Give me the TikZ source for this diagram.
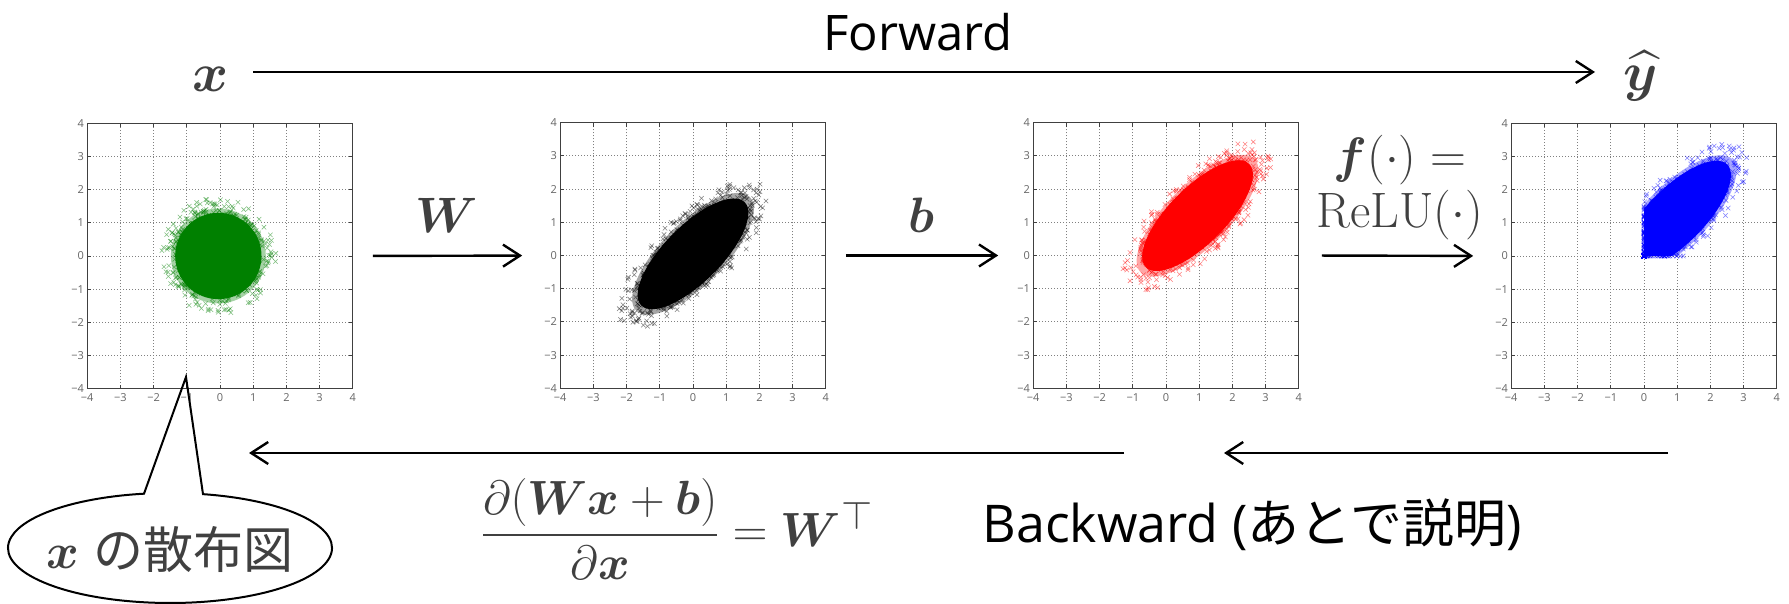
\documentclass[tikz,border=0pt]{standalone}
\usepackage{amsmath}
\usepackage{bm}
\usepackage{graphicx}
\usepackage[no-math]{fontspec}
\setmainfont{Open Sans}
\newfontfamily\jpfont{Noto Sans CJK JP}
\usetikzlibrary{arrows.meta}

\definecolor{mathgray}{RGB}{64,64,64}
\definecolor{sgreen}{RGB}{0,128,0}
\definecolor{sred}{RGB}{255,0,0}
\definecolor{sblue}{RGB}{0,0,255}

% math set at 24.88pt (an available size) and scaled up
\newcommand\scaledmath[2]{\scalebox{#1}{\fontsize{24.88}{30}\selectfont #2}}

\tikzset{
  arr/.style={line width=2.4pt, -{Straight Barb[length=17pt,width=22pt]}},
  plotbox/.style={minimum width=265.6pt, minimum height=265.6pt, inner sep=0pt, outer sep=0pt},
  frameline/.style={draw=black!75, line width=1.3pt},
  gridline/.style={black!50, line width=0.8pt, dash pattern=on 1pt off 2pt},
  tickline/.style={black!75, line width=0.8pt},
  ticklab/.style={font=\fontsize{11}{11}\selectfont, text=black!60, inner sep=1pt},
  mathlab/.style={text=mathgray, inner sep=0pt},
  xcross/.style={line width=0.55pt},
  bubble/.style={line width=2pt, line join=miter},
}

\newcommand\plotaxes[1]{%
  \begin{scope}[shift={(#1.center)}, x=33.2pt, y=33.2pt]
    \foreach \k in {-3,...,3}{
      \draw[gridline] (\k,-4) -- (\k,4);
      \draw[gridline] (-4,\k) -- (4,\k);
    }
  \end{scope}}
\newcommand\plotframe[1]{%
  \draw[frameline] (#1.south west) rectangle (#1.north east);
  \begin{scope}[shift={(#1.center)}, x=33.2pt, y=33.2pt]
    \foreach \k in {-3,...,3}{
      \draw[tickline] (\k,-4) -- ++(0,4pt) (\k,4) -- ++(0,-4pt)
                      (-4,\k) -- ++(4pt,0) (4,\k) -- ++(-4pt,0);
    }
    \foreach \k in {-4,...,4}{
      \pgfmathtruncatemacro\ak{abs(\k)}
      \node[ticklab, anchor=north] (#1x\k) at ([yshift=-4pt]\k,-4) {\ifnum\k<0 −\fi\ak};
      \node[ticklab, anchor=east] (#1y\k) at ([xshift=-2pt]-4,\k) {\ifnum\k<0 −\fi\ak};
    }
  \end{scope}}
% scatter: #1 node, #2 colour, #3 cx, #4 cy, #5 a, #6 b, #7 relu flag
\newcommand\scatterblob[7]{%
  \begin{scope}[shift={(#1.center)}, x=33.2pt, y=33.2pt]
    \clip (-4,-4) rectangle (4,4);
    \begin{scope}
      \ifnum#7=1 \clip (0,0) rectangle (4,4); \fi
      \fill[#2, fill opacity=0.35, rotate around={45:(#3,#4)}] (#3,#4) ellipse [x radius=1.1*#5, y radius=1.1*#6];
      \fill[#2, rotate around={45:(#3,#4)}] (#3,#4) ellipse [x radius=#5, y radius=#6];
    \end{scope}
    \foreach \i in {1,...,420}{
      \pgfmathsetmacro\t{360*rnd}
      \pgfmathsetmacro\r{0.9+0.45*pow(rnd,2.4)}
      \pgfmathsetmacro\u{#5*\r*cos(\t)}
      \pgfmathsetmacro\v{#6*\r*sin(\t)}
      \pgfmathsetmacro\X{#3+0.7071*(\u-\v)}
      \pgfmathsetmacro\Y{#4+0.7071*(\u+\v)}
      \ifnum#7=1 \pgfmathsetmacro\X{max(\X,0)}\pgfmathsetmacro\Y{max(\Y,0)}\fi
      \draw[#2, xcross, draw opacity=0.5] (\X,\Y) +(-2.2pt,-2.2pt) -- +(2.2pt,2.2pt) +(-2.2pt,2.2pt) -- +(2.2pt,-2.2pt);
    }
  \end{scope}}

\begin{document}
\begin{tikzpicture}[x=1pt, y=1pt]
\pgfmathsetseed{4242}
\fill[white] (0,0) rectangle (1789,604);
\useasboundingbox (0,0) rectangle (1789,604);

% plot boxes
\path node[plotbox] (p1) at (220,348) {};
\path node[plotbox] (p2) at (693,348.5) {};
\path node[plotbox] (p3) at (1166,348.5) {};
\path node[plotbox] (p4) at (1644,348) {};

\plotaxes{p1}\plotaxes{p2}\plotaxes{p3}\plotaxes{p4}
\scatterblob{p1}{sgreen}{-0.05}{0}{1.3}{1.3}{0}
\scatterblob{p2}{black}{0}{0.05}{2.2}{0.85}{0}
\scatterblob{p3}{sred}{0.95}{1.2}{2.2}{0.85}{0}
\scatterblob{p4}{sblue}{0.95}{1.2}{2.2}{0.85}{1}
\plotframe{p1}\plotframe{p2}\plotframe{p3}\plotframe{p4}

% forward
\node[anchor=base, font=\fontsize{49}{55}\selectfont] (fwd) at (918,553) {Forward};
\node[mathlab, anchor=base] (xin) at (211,512.5) {\scaledmath{2.2}{$\bm{x}$}};
\node[mathlab, anchor=base] (yhat) at (1641,513) {\scaledmath{2.2}{$\widehat{\bm{y}}$}};
\coordinate (fs) at (253,532);
\coordinate (fe) at (1595,532);
\draw[arr] (fs) -- (fe);

% layer arrows
\draw[arr, shorten <=20pt, shorten >=38pt] (p1.east) -- (p2.west);
\draw[arr, shorten <=20pt, shorten >=35pt] (p2.east) -- (p3.west);
\draw[arr, shorten <=23pt, shorten >=38pt] (p3.east) -- (p4.west);
\node[mathlab, anchor=base] (wlab) at (447,371) {\scaledmath{2.0}{$\bm{W}$}};
\node[mathlab, anchor=base] (blab) at (921,371) {\scaledmath{2.0}{$\bm{b}$}};
\node[mathlab, anchor=base] (flab1) at (1400,431) {\scaledmath{2.0}{$\bm{f}(\cdot) =$}};
\node[mathlab, anchor=base] (flab2) at (1400,376) {\scaledmath{2.0}{$\mathrm{ReLU}(\cdot)$}};

% backward
\coordinate (b1s) at (1124,151);
\coordinate (b1e) at (249,151);
\coordinate (b2s) at (1668,151);
\coordinate (b2e) at (1224,151);
\draw[arr] (b1s) -- (b1e);
\draw[arr] (b2s) -- (b2e);
\node[mathlab, anchor=base] (grad) at (677,57) {\scaledmath{1.93}{$\dfrac{\partial(\bm{W}\bm{x}+\bm{b})}{\partial\bm{x}} = \bm{W}^{\top}$}};
\node[anchor=base, font=\fontsize{52}{58}\selectfont] (bwd) at (1252,61) {Backward ({\jpfont あとで説明})};

% speech bubble
\draw[bubble] (203,109.85) arc[start angle=78.25, end angle=-260.76, x radius=162, y radius=55] -- (186,227) -- cycle;
\node[mathlab, anchor=base] (bubtext) at (170,35) {\scaledmath{2.0}{$\bm{x}$}\hspace{14pt}{\fontsize{50}{55}\selectfont\jpfont の散布図}};
\end{tikzpicture}
\end{document}
